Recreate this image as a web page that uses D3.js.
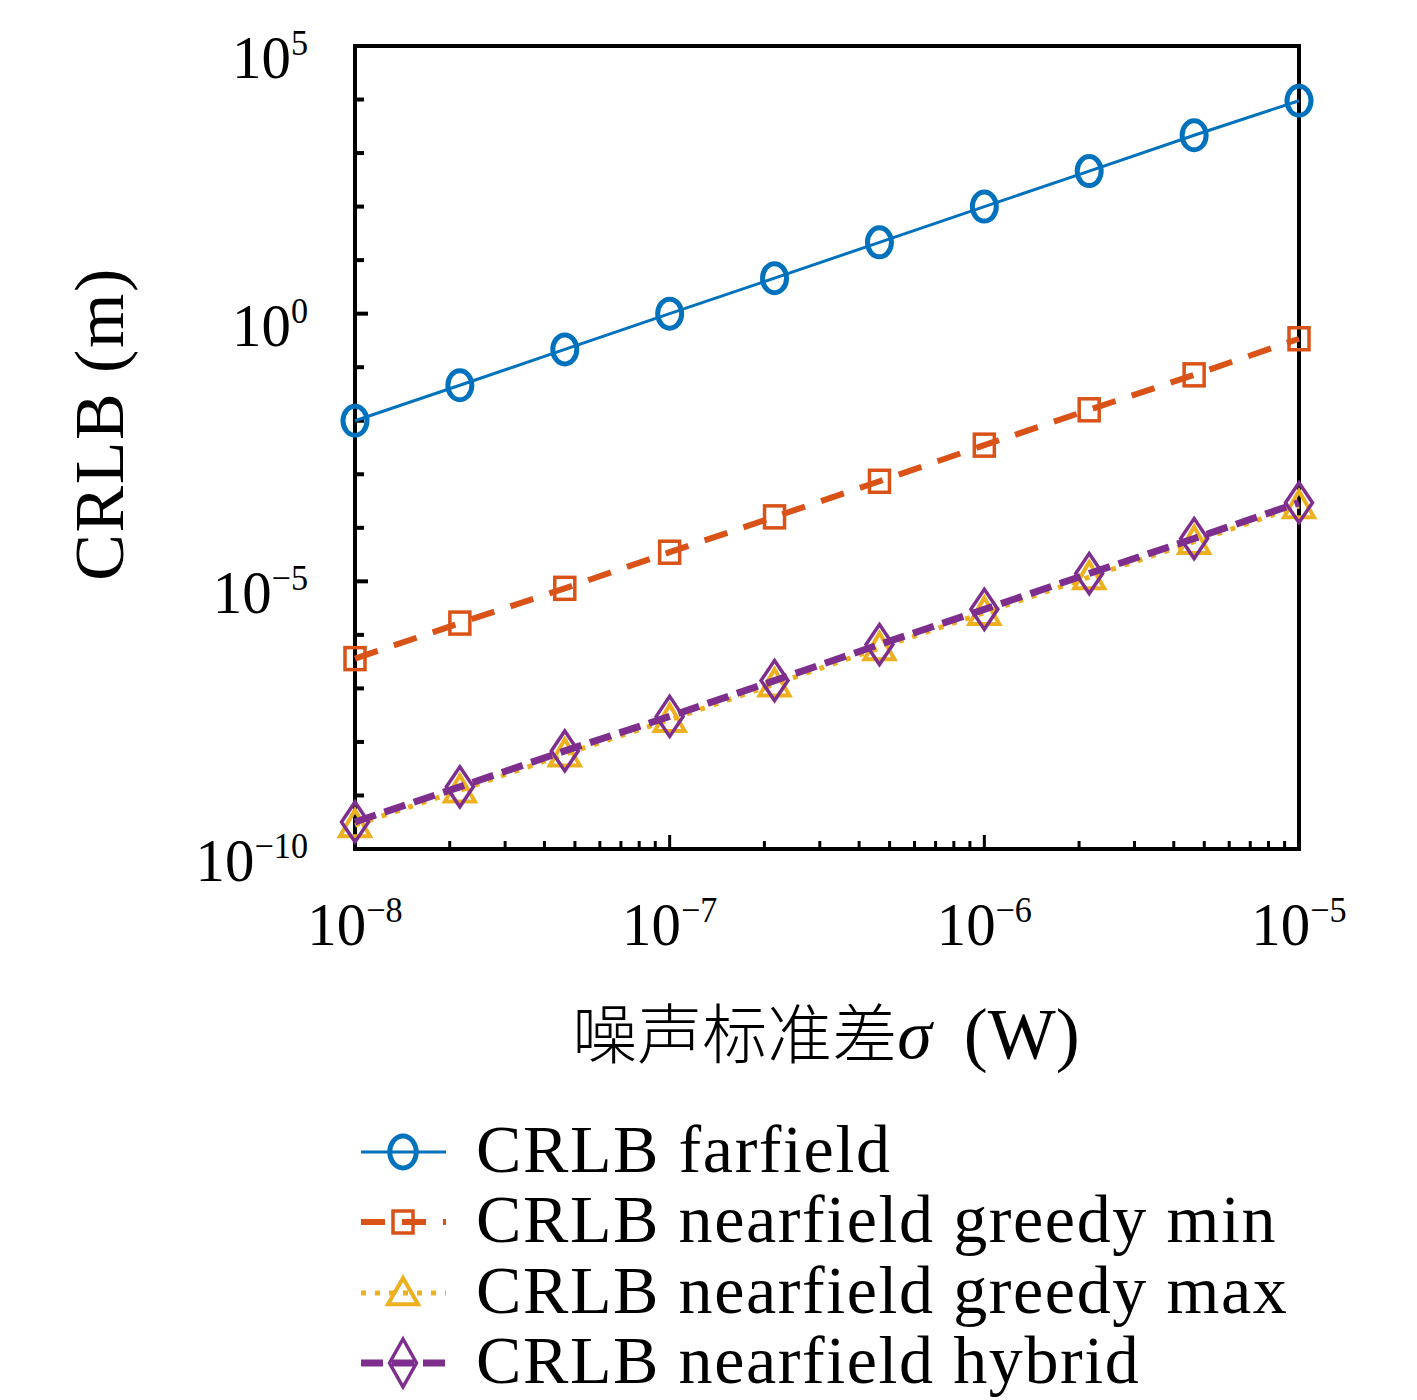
<!DOCTYPE html>
<html><head><meta charset="utf-8">
<script src="https://cdn.jsdelivr.net/npm/d3@7"></script>
<style>body{margin:0;background:#fff}</style>
</head><body>
<svg id="c" width="1417" height="1400"></svg>
<script>
// ---- data ----
const noise = [1e-8, 2.154e-8, 4.642e-8, 1e-7, 2.154e-7, 4.642e-7, 1e-6, 2.154e-6, 4.642e-6, 1e-5];
const farfield = [0.01, 0.046, 0.215, 1.0, 4.6, 21.5, 100, 460, 2150, 9500];
const greedyMin = [3.6e-7, 1.66e-6, 7.4e-6, 3.5e-5, 1.6e-4, 7.4e-4, 3.5e-3, 1.6e-2, 7.2e-2, 0.34];
const greedyMax = [2.8e-10, 1.25e-9, 5.9e-9, 2.6e-8, 1.2e-7, 5.7e-7, 2.6e-6, 1.2e-5, 5.5e-5, 2.55e-4];
const hybrid = [3.2e-10, 1.45e-9, 6.8e-9, 3.0e-8, 1.4e-7, 6.6e-7, 3.0e-6, 1.4e-5, 6.3e-5, 2.95e-4];
const seriesNames = ["CRLB farfield", "CRLB nearfield greedy min", "CRLB nearfield greedy max", "CRLB nearfield hybrid"];
const xTicks = [1e-8, 1e-7, 1e-6, 1e-5];
const xTickExp = ["\u22128", "\u22127", "\u22126", "\u22125"];
const yTicks = [1e5, 1e0, 1e-5, 1e-10];
const yTickExp = ["5", "0", "\u22125", "\u221210"];
const xLabel = "噪声标准差";
const yLabel = "CRLB (m)";

const svg = d3.select("#c");
const L = 355, R = 1299, T = 46, B = 849;
const x = d3.scaleLog().domain([1e-8, 1e-5]).range([L, R]);
const y = d3.scaleLog().domain([1e-10, 1e5]).range([B, T]);
const serif = "'Liberation Serif','Times New Roman',serif";

const styles = [
  {color:"#0072BD", width:3, dash:null, marker:"circle"},
  {color:"#D95319", width:6, dash:"24,17", marker:"square"},
  {color:"#EDB120", width:5, dash:"5,9", marker:"triangle"},
  {color:"#7E2F8E", width:7, dash:"22,9", marker:"diamond"}
];
const allSeries = [farfield, greedyMin, greedyMax, hybrid];

// ---- axes ----
const g = svg.append("g");
const yDecades = d3.range(-10, 6).map(e => Math.pow(10, e));
g.selectAll(".yt").data(yDecades).enter().append("line")
  .attr("x1", L).attr("x2", d => L + (yTicks.includes(d) ? 13 : 9))
  .attr("y1", d => y(d)).attr("y2", d => y(d))
  .attr("stroke", "#000").attr("stroke-width", 4);
const xMinor = [];
for (let e = -8; e < -5; e++) for (let k = 1; k < 10; k++) xMinor.push(k * Math.pow(10, e));
xMinor.push(1e-5);
g.selectAll(".xt").data(xMinor).enter().append("line")
  .attr("x1", d => x(d)).attr("x2", d => x(d))
  .attr("y1", B).attr("y2", d => B - (xTicks.some(t => Math.abs(t - d) / t < 1e-6) ? 14 : 8))
  .attr("stroke", "#000").attr("stroke-width", 3);
g.append("rect").attr("x", L).attr("y", T).attr("width", R - L).attr("height", B - T)
  .attr("fill", "none").attr("stroke", "#000").attr("stroke-width", 4);

// tick labels
const SX = 0.95;
function powLabel(px, py, exp, anchor) {
  const gg = svg.append("g").attr("transform", `translate(${px},${py}) scale(${SX},1)`);
  const t = gg.append("text").attr("font-family", serif).attr("font-size", 62)
    .attr("text-anchor", anchor).attr("fill", "#000");
  t.append("tspan").text("10");
  t.append("tspan").attr("font-size", 36).attr("dy", -23).text(exp);
}
yTicks.forEach((v, i) => powLabel(308, y(v) + 32, yTickExp[i], "end"));
xTicks.forEach((v, i) => powLabel(x(v), 945, xTickExp[i], "middle"));

// axis titles
const xt = svg.append("text").attr("x", 826).attr("y", 1058)
  .attr("text-anchor", "middle").attr("fill", "#000");
xt.append("tspan").attr("font-family", "'Noto Sans CJK SC',sans-serif").attr("font-weight", 300)
  .attr("font-size", 65).text(xLabel);
xt.append("tspan").attr("font-family", serif).attr("font-style", "italic").attr("font-size", 70).text("σ");
xt.append("tspan").attr("font-family", serif).attr("font-size", 72).attr("dx", 14).text(" (W)");

svg.append("text").attr("transform", `translate(123,424) rotate(-90)`)
  .attr("text-anchor", "middle").attr("font-family", serif).attr("font-size", 70)
  .attr("letter-spacing", 1.5)
  .attr("fill", "#000").text(yLabel);

// ---- markers ----
function drawMarker(sel, type, color, cx, cy, scale) {
  scale = scale || 1;
  if (type === "circle") {
    sel.append("ellipse").attr("cx", cx).attr("cy", cy).attr("rx", 12 * scale).attr("ry", 14.5 * scale)
      .attr("fill", "none").attr("stroke", color).attr("stroke-width", 5);
  } else if (type === "square") {
    sel.append("rect").attr("x", cx - 10).attr("y", cy - 11).attr("width", 20).attr("height", 22)
      .attr("fill", "none").attr("stroke", color).attr("stroke-width", 3.5);
  } else if (type === "triangle") {
    const w = 15, h = 15;
    sel.append("path").attr("d", `M${cx},${cy - h}L${cx + w},${cy + h * 0.75}L${cx - w},${cy + h * 0.75}Z`)
      .attr("fill", "none").attr("stroke", color).attr("stroke-width", 4).attr("stroke-linejoin", "miter");
  } else if (type === "diamond") {
    const w = 13.5, h = 20 * scale;
    sel.append("path").attr("d", `M${cx},${cy - h}L${cx + w},${cy}L${cx},${cy + h}L${cx - w},${cy}Z`)
      .attr("fill", "none").attr("stroke", color).attr("stroke-width", 3.5);
  }
}

const line = d3.line().x(d => x(d[0])).y(d => y(d[1]));
allSeries.forEach((vals, si) => {
  const s = styles[si];
  const pts = noise.map((n, i) => [n, vals[i]]);
  const gs = svg.append("g");
  gs.append("path").attr("d", line(pts)).attr("fill", "none")
    .attr("stroke", s.color).attr("stroke-width", s.width)
    .attr("stroke-dasharray", s.dash);
  pts.forEach(p => drawMarker(gs, s.marker, s.color, x(p[0]), y(p[1])));
});

// ---- legend ----
const legY = [1152, 1222, 1293, 1363];
seriesNames.forEach((name, i) => {
  const s = styles[i];
  const lg = svg.append("g");
  lg.append("line").attr("x1", 361).attr("x2", 446).attr("y1", legY[i]).attr("y2", legY[i])
    .attr("stroke", s.color).attr("stroke-width", s.width).attr("stroke-dasharray", s.dash);
  drawMarker(lg, s.marker, s.color, 403, legY[i], i === 3 ? 1.2 : 1.1);
  lg.append("text").attr("x", 476).attr("y", legY[i] + 20).attr("font-family", serif)
    .attr("font-size", 68).attr("letter-spacing", 1.6).attr("fill", "#000").text(name);
});
</script>
</body></html>
